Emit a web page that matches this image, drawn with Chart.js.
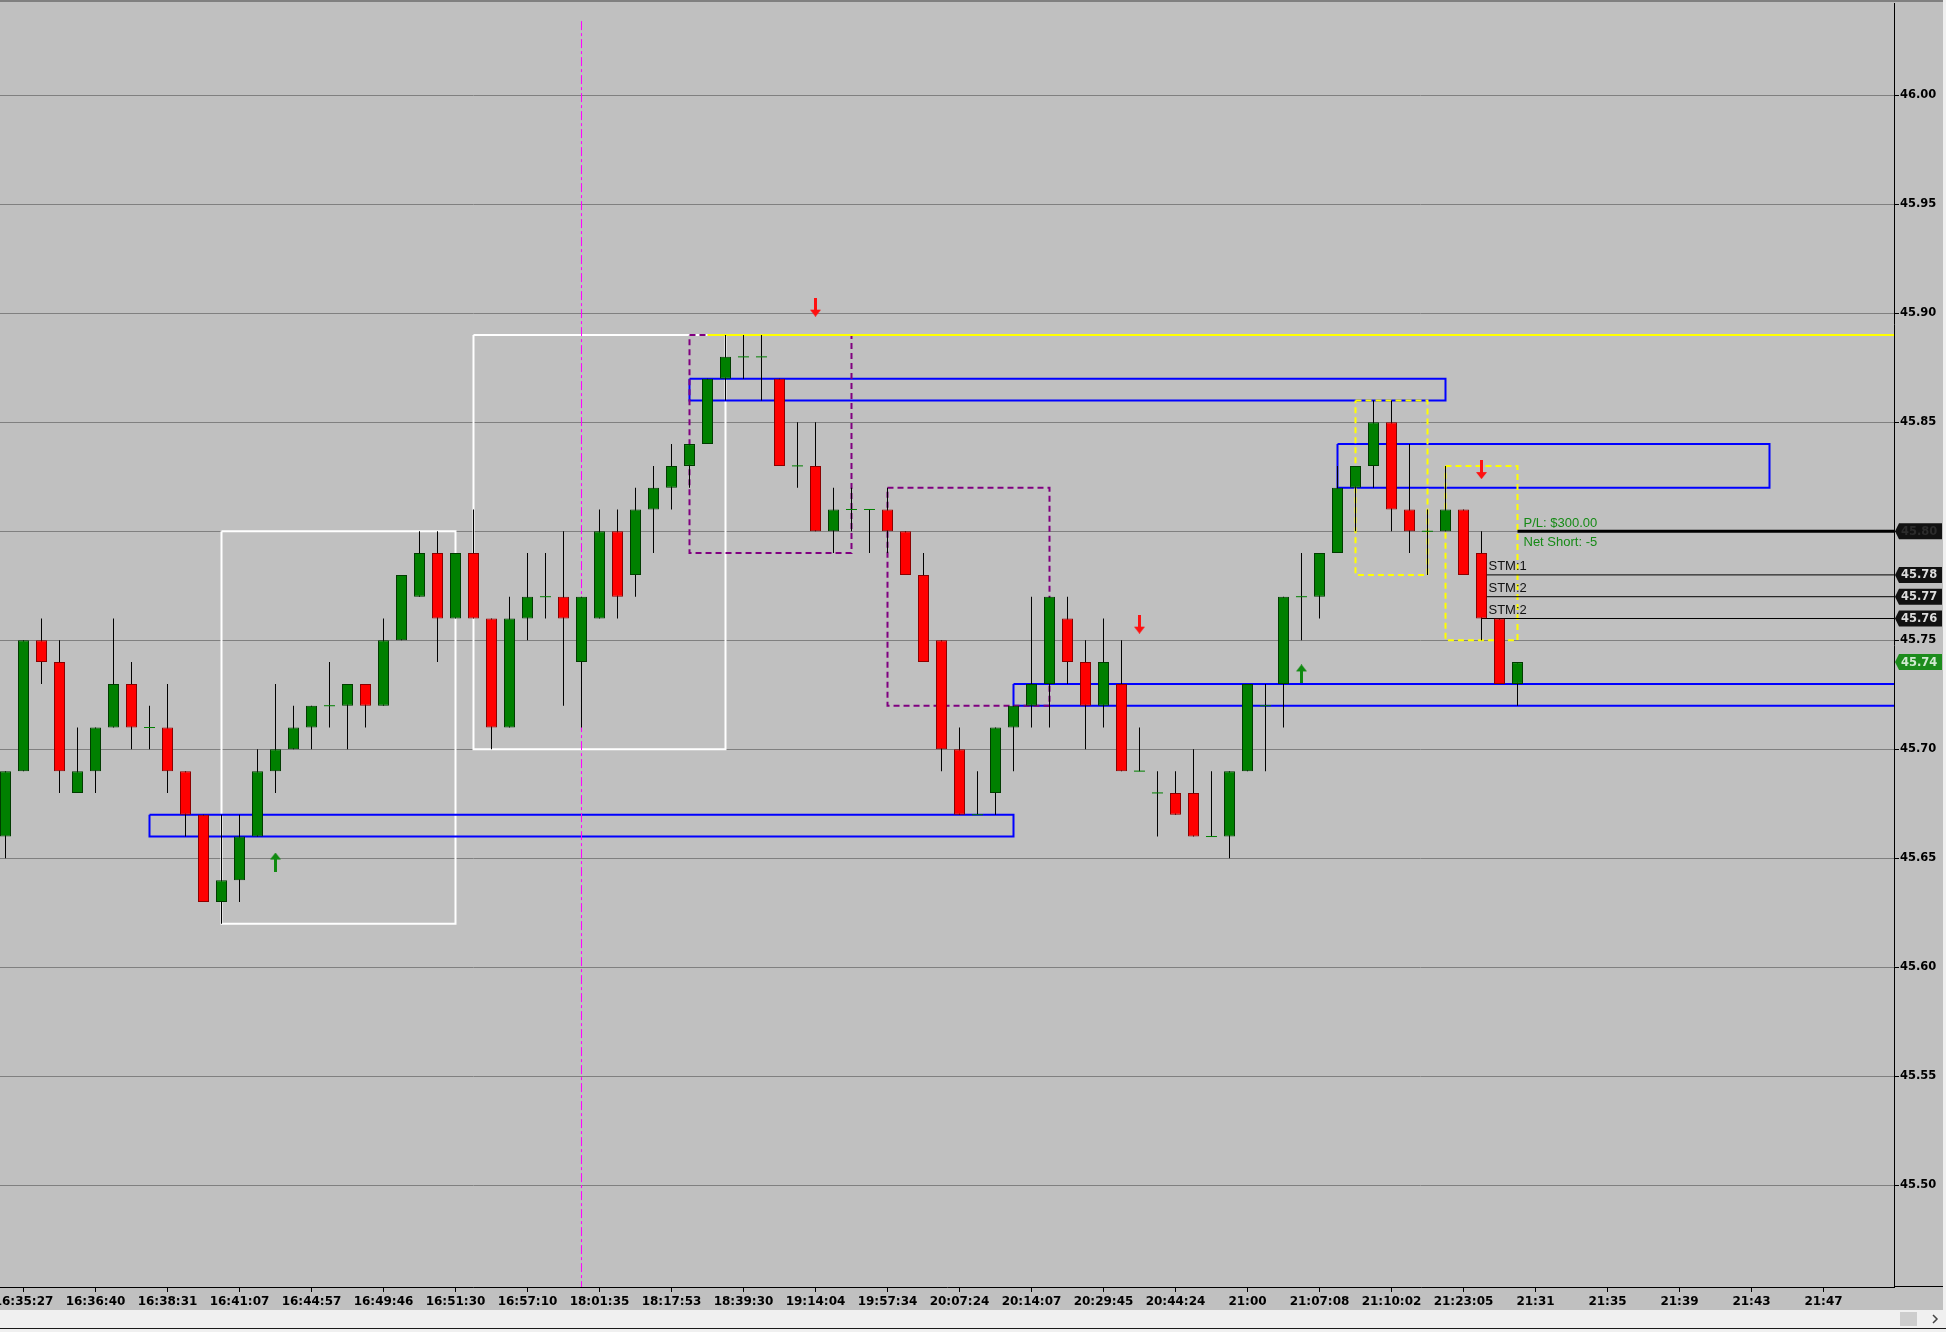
<!DOCTYPE html>
<html><head><meta charset="utf-8">
<script src="https://cdn.jsdelivr.net/npm/chart.js@4.4.1/dist/chart.umd.min.js"></script>
<style>html,body{margin:0;padding:0;background:#C0C0C0;overflow:hidden}canvas{display:block}</style>
</head><body>
<canvas id="c" width="1946" height="1332"></canvas>
<script>
// ---------- data ----------
const OPEN  = [45.66,45.69,45.75,45.74,45.68,45.69,45.71,45.73,45.71,45.71,45.69,45.67,45.63,45.64,45.66,45.69,45.70,45.71,45.72,45.72,45.73,45.72,45.75,45.77,45.79,45.76,45.79,45.76,45.71,45.76,45.77,45.77,45.74,45.76,45.80,45.78,45.81,45.82,45.83,45.84,45.87,45.88,45.88,45.87,45.83,45.83,45.80,45.81,45.81,45.81,45.80,45.78,45.75,45.70,45.67,45.68,45.71,45.72,45.73,45.76,45.74,45.72,45.73,45.69,45.68,45.68,45.68,45.66,45.66,45.69,45.72,45.73,45.77,45.77,45.79,45.82,45.83,45.85,45.81,45.80,45.80,45.81,45.79,45.76,45.73];
const HIGH  = [45.69,45.75,45.76,45.75,45.71,45.71,45.76,45.74,45.72,45.73,45.69,45.67,45.67,45.67,45.70,45.73,45.72,45.72,45.74,45.73,45.73,45.76,45.78,45.80,45.80,45.79,45.81,45.76,45.77,45.79,45.79,45.80,45.77,45.81,45.81,45.82,45.83,45.84,45.84,45.87,45.89,45.89,45.89,45.87,45.85,45.85,45.82,45.82,45.81,45.82,45.80,45.79,45.75,45.71,45.69,45.71,45.72,45.77,45.77,45.77,45.75,45.76,45.75,45.71,45.69,45.69,45.70,45.69,45.69,45.73,45.73,45.77,45.79,45.79,45.83,45.83,45.86,45.86,45.84,45.81,45.83,45.81,45.80,45.76,45.74];
const LOW   = [45.65,45.69,45.73,45.68,45.68,45.68,45.71,45.70,45.70,45.68,45.66,45.63,45.62,45.63,45.66,45.68,45.70,45.70,45.71,45.70,45.71,45.72,45.75,45.77,45.74,45.76,45.76,45.70,45.71,45.75,45.76,45.72,45.71,45.76,45.76,45.77,45.79,45.81,45.82,45.84,45.86,45.87,45.86,45.83,45.82,45.80,45.79,45.80,45.79,45.79,45.78,45.74,45.69,45.67,45.67,45.67,45.69,45.71,45.71,45.73,45.70,45.71,45.69,45.69,45.66,45.67,45.66,45.66,45.65,45.69,45.69,45.71,45.75,45.76,45.79,45.80,45.82,45.80,45.79,45.78,45.80,45.78,45.75,45.73,45.72];
const CLOSE = [45.69,45.75,45.74,45.69,45.69,45.71,45.73,45.71,45.71,45.69,45.67,45.63,45.64,45.66,45.69,45.70,45.71,45.72,45.72,45.73,45.72,45.75,45.78,45.79,45.76,45.79,45.76,45.71,45.76,45.77,45.77,45.76,45.77,45.80,45.77,45.81,45.82,45.83,45.84,45.87,45.88,45.88,45.88,45.83,45.83,45.80,45.81,45.81,45.81,45.80,45.78,45.74,45.70,45.67,45.67,45.71,45.72,45.73,45.77,45.74,45.72,45.74,45.69,45.69,45.68,45.67,45.66,45.66,45.69,45.73,45.72,45.77,45.77,45.79,45.82,45.83,45.85,45.81,45.80,45.80,45.81,45.78,45.76,45.73,45.74];

const X_TICK_INDEX  = [1,5,9,13,17,21,25,29,33,37,41,45,49,53,57,61,65,69,73,77,81,85,89,93,97,101];
const X_TICK_LABELS = ['16:35:27','16:36:40','16:38:31','16:41:07','16:44:57','16:49:46','16:51:30','16:57:10','18:01:35','18:17:53','18:39:30','19:14:04','19:57:34','20:07:24','20:14:07','20:29:45','20:44:24','21:00','21:07:08','21:10:02','21:23:05','21:31','21:35','21:39','21:43','21:47'];
const Y_TICKS = [45.50,45.55,45.60,45.65,45.70,45.75,45.80,45.85,45.90,45.95,46.00];
const Y_MIN = 45.4534, Y_MAX = 46.0423;
const X_MIN = -0.30556, X_MAX = 104.9167;

// drawing objects in data coordinates: [x1, x2, priceLow, priceHigh]
const WHITE_BOXES  = [[12,25,45.62,45.80],[26,40,45.70,45.89]];
const PURPLE_BOXES = [[38,47,45.79,45.89],[49,58,45.72,45.82]];
const BLUE_BOXES   = [[8,56,45.66,45.67],[38,80,45.86,45.87],[74,98,45.82,45.84],[56,110,45.72,45.73]];
const YELLOW_BOXES = [[75,79,45.78,45.86],[80,84,45.75,45.83]];
const YELLOW_LINE  = {from:39, price:45.89};
const POSITION_LINE = {from:84, price:45.80};
const STM_LINES = [{from:82, price:45.78, label:'STM:1'},{from:82, price:45.77, label:'STM:2'},{from:82, price:45.76, label:'STM:2'}];
const MAGENTA_LINE = {x:32, top:46.034};
const ARROWS_DOWN = [{x:45,y:45.9028},{x:63,y:45.7574},{x:82,y:45.8283}];
const ARROWS_UP   = [{x:15,y:45.6483},{x:72,y:45.7346}];
const PL_TEXT = 'P/L: $300.00', NET_TEXT = 'Net Short: -5';
const PRICE_TAGS = [
  {price:45.80, bg:'#121212', fg:'#2c2c2c'},
  {price:45.78, bg:'#121212', fg:'#dcdcdc'},
  {price:45.77, bg:'#121212', fg:'#dcdcdc'},
  {price:45.76, bg:'#121212', fg:'#dcdcdc'},
  {price:45.74, bg:'#1c8c1c', fg:'#d2ead2'}
];

// ---------- datasets ----------
const idx = OPEN.map((_, i) => i);
const wickData = idx.map(i => ({x:i, y:[LOW[i], HIGH[i]]}));
const upData   = idx.filter(i => CLOSE[i] > OPEN[i]).map(i => ({x:i, y:[OPEN[i], CLOSE[i]]}));
const downData = idx.filter(i => CLOSE[i] < OPEN[i]).map(i => ({x:i, y:[CLOSE[i], OPEN[i]]}));
const dojiData = idx.filter(i => CLOSE[i] === OPEN[i]).map(i => ({x:i, y:CLOSE[i]}));

function rectData(b){ const [x1,x2,y1,y2]=b; return [{x:x1,y:y2},{x:x2,y:y2},{x:x2,y:y1},{x:x1,y:y1},{x:x1,y:y2}]; }
function lineDS(data, color, width, dash, order){
  return {type:'line', data, borderColor:color, borderWidth:width, borderDash:dash||[], pointRadius:0,
    fill:false, tension:0, order, borderJoinStyle:'miter', borderCapStyle:'butt', spanGaps:true};
}
function makeArrow(color, up){
  const c=document.createElement('canvas'); c.width=11; c.height=19;
  const g=c.getContext('2d'); g.fillStyle=color;
  if(!up){ g.fillRect(4,0,3,13); g.beginPath(); g.moveTo(0,12); g.lineTo(11,12); g.lineTo(5.5,19); g.closePath(); g.fill(); }
  else { g.fillRect(4,6,3,13); g.beginPath(); g.moveTo(0,7); g.lineTo(11,7); g.lineTo(5.5,0); g.closePath(); g.fill(); }
  return c;
}

const datasets = [];
WHITE_BOXES.forEach(b => datasets.push(lineDS(rectData(b), '#FFFFFF', 2, null, 20)));
BLUE_BOXES.forEach(b => datasets.push(lineDS(rectData(b), '#0000FF', 2, null, 19)));
PURPLE_BOXES.forEach(b => datasets.push(lineDS(rectData(b), '#800080', 2, [6,4], 18)));
YELLOW_BOXES.forEach(b => datasets.push(lineDS(rectData(b), '#FFFF00', 2, [6,4], 18)));
datasets.push(lineDS([{x:YELLOW_LINE.from,y:YELLOW_LINE.price},{x:X_MAX+5,y:YELLOW_LINE.price}], '#FFFF00', 2, null, 17));
datasets.push(lineDS([{x:MAGENTA_LINE.x,y:MAGENTA_LINE.top},{x:MAGENTA_LINE.x,y:Y_MIN-0.01}], '#FF00FF', 1, [9,3,3,3], 16));
STM_LINES.forEach(l => datasets.push(lineDS([{x:l.from,y:l.price},{x:X_MAX+5,y:l.price}], '#000000', 1, null, 15)));
datasets.push(lineDS([{x:POSITION_LINE.from,y:POSITION_LINE.price},{x:X_MAX+5,y:POSITION_LINE.price}], '#000000', 3, null, 15));

datasets.push({type:'bar', data:wickData, backgroundColor:'#000000', borderWidth:0, barThickness:1, grouped:false, inflateAmount:0, order:5});
datasets.push({type:'bar', data:upData, backgroundColor:'#008000', borderColor:'#003c00', borderWidth:1, borderSkipped:false, barThickness:11, grouped:false, inflateAmount:0, order:4});
datasets.push({type:'bar', data:downData, backgroundColor:'#FF0000', borderColor:'#8a0000', borderWidth:1, borderSkipped:false, barThickness:11, grouped:false, inflateAmount:0, order:4});
datasets.push({type:'scatter', data:dojiData, pointStyle:'line', pointRadius:5.5, borderColor:'#008000', borderWidth:1, order:3});
datasets.push({type:'scatter', data:ARROWS_DOWN, pointStyle:makeArrow('#FF1010', false), order:1});
datasets.push({type:'scatter', data:ARROWS_UP, pointStyle:makeArrow('#108A10', true), order:1});

// ---------- plugins ----------
const backPlugin = {
  id:'back',
  beforeDraw(chart){
    const g=chart.ctx, W=chart.width, H=chart.height;
    g.save();
    g.fillStyle='#C0C0C0'; g.fillRect(0,0,W,H);
    g.fillStyle='#808080'; g.fillRect(0,0,W,2);
    g.fillStyle='#F0F0F0'; g.fillRect(0,1310,W,H-1310); g.fillRect(1943,0,3,1310);
    g.fillStyle='#CDCDCD'; g.fillRect(1900,1312,17,14);
    g.fillStyle='#1a1a1a'; g.fillRect(0,1328,W,1);
    g.restore();
  },
  afterDraw(chart){
    const g=chart.ctx, xs=chart.scales.x, ys=chart.scales.y;
    g.save();
    g.fillStyle='#000'; g.fillRect(1894,Math.round(chart.chartArea.bottom)-1,49,1);
    g.strokeStyle='#444'; g.lineWidth=1.5; g.beginPath(); g.moveTo(1933,1315); g.lineTo(1937,1319); g.lineTo(1933,1323); g.stroke();
    const px = xs.getPixelForValue(POSITION_LINE.from)+6, py = ys.getPixelForValue(POSITION_LINE.price);
    g.font='13px "Liberation Sans", Arial, sans-serif'; g.textBaseline='middle'; g.textAlign='left';
    g.fillStyle='#168A16';
    g.fillText(PL_TEXT, px, py-8);
    g.fillText(NET_TEXT, px, py+11);
    g.fillStyle='#111';
    STM_LINES.forEach(l => { g.fillText(l.label, xs.getPixelForValue(l.from)+7, ys.getPixelForValue(l.price)-8); });
    g.font='bold 11.5px "DejaVu Sans", Verdana, sans-serif';
    PRICE_TAGS.forEach(t => {
      const y = ys.getPixelForValue(t.price);
      g.fillStyle=t.bg; g.beginPath();
      g.moveTo(1895,y); g.lineTo(1899,y-8); g.lineTo(1942,y-8); g.lineTo(1942,y+8); g.lineTo(1899,y+8); g.closePath(); g.fill();
      g.fillStyle=t.fg; g.fillText(t.price.toFixed(2), 1901, y+0.5);
    });
    g.restore();
  }
};

function noPad(s){ s.paddingLeft = 0; s.paddingRight = 0; s.paddingTop = 0; s.paddingBottom = 0; }

new Chart(document.getElementById('c'), {
  type:'bar',
  data:{datasets},
  options:{
    responsive:false, animation:false, devicePixelRatio:1, events:[],
    layout:{padding:{top:3,bottom:22,left:0,right:0}, autoPadding:false},
    plugins:{legend:{display:false}, tooltip:{enabled:false}},
    scales:{
      x:{type:'linear', min:X_MIN, max:X_MAX, offset:false,
        grid:{display:true, offset:false, drawOnChartArea:false, drawTicks:true, tickLength:5, tickColor:'#000', color:'#000'},
        border:{display:true, color:'#000', width:1},
        afterBuildTicks(s){ s.ticks = X_TICK_INDEX.map(v => ({value:v})); },
        afterFit(s){ s.height = 23; noPad(s); },
        ticks:{autoSkip:false, maxRotation:0, minRotation:0, padding:3, color:'#000',
          font:{family:'"DejaVu Sans", Verdana, sans-serif', weight:'bold', size:12},
          callback(v){ const k = X_TICK_INDEX.indexOf(v); return k>=0 ? X_TICK_LABELS[k] : ''; }}
      },
      y:{type:'linear', position:'right', min:Y_MIN, max:Y_MAX, beginAtZero:false,
        grid:{color:'#808080', lineWidth:1, drawTicks:true, tickLength:5, tickColor:'#000'},
        border:{display:true, color:'#000', width:1},
        afterBuildTicks(s){ s.ticks = Y_TICKS.map(v => ({value:v})); },
        afterFit(s){ s.width = 52; noPad(s); },
        ticks:{padding:1, color:'#000', font:{family:'"DejaVu Sans", Verdana, sans-serif', weight:'bold', size:11.5},
          callback(v){ return Number(v).toFixed(2); }}
      }
    }
  },
  plugins:[backPlugin]
});
</script>
</body></html>
